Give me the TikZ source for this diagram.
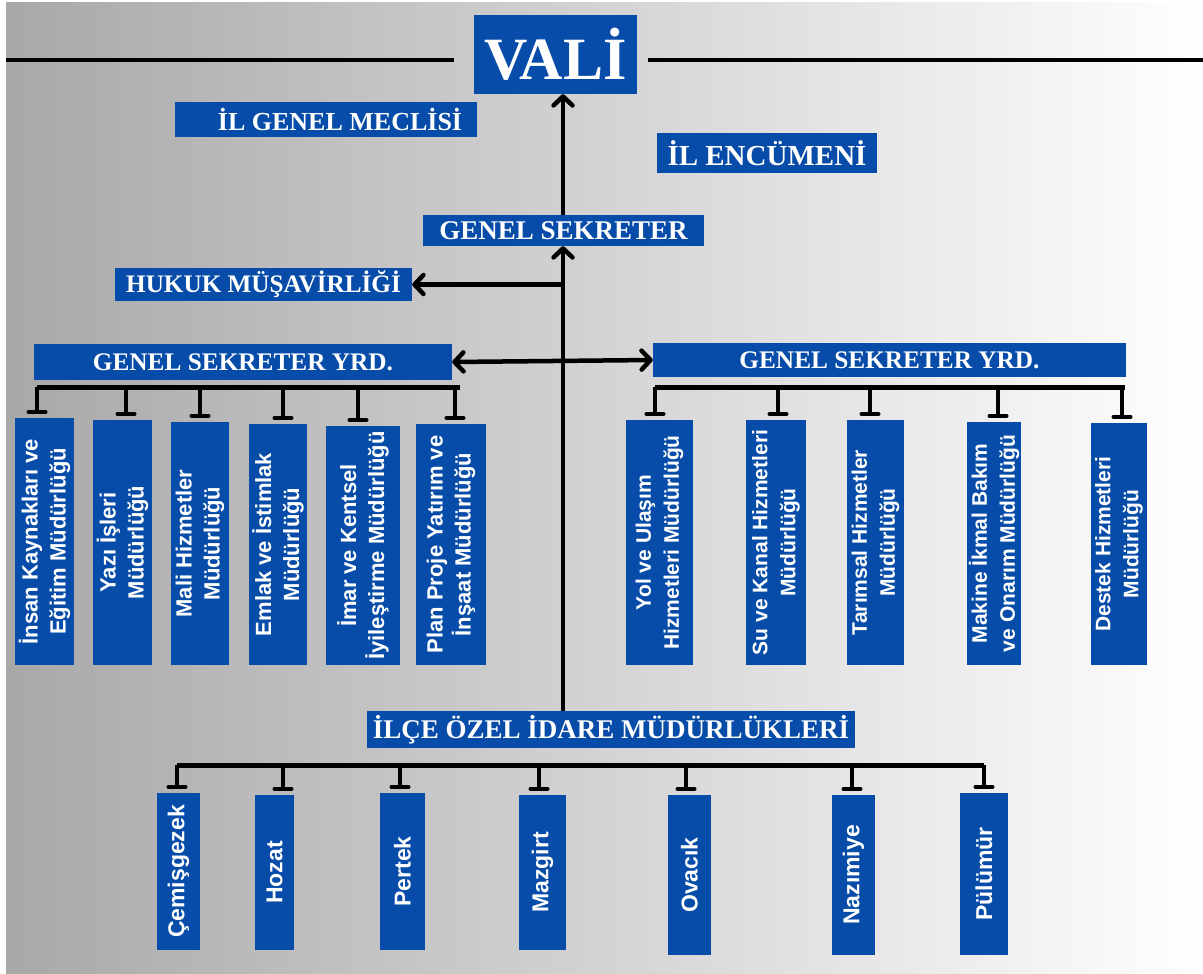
\documentclass[tikz,border=0pt]{standalone}
\usepackage{fontspec}
\setmainfont{Liberation Serif}
\newfontfamily\sansfam{Liberation Sans}
\usetikzlibrary{arrows.meta}
\definecolor{boxblue}{RGB}{6,76,168}
\definecolor{bgleft}{RGB}{168,168,168}
\newcommand\hdfont[1]{\bfseries\fontsize{#1}{#1}\selectfont}
\tikzset{
  myb/.tip={Straight Barb[length=9pt,width=19pt,line width=4.5pt,round]},
  mybar/.tip={Bar[width=17pt,round]},
}
\begin{document}
\begin{tikzpicture}[x=1pt,y=-1pt,
  box/.style={fill=boxblue, inner sep=0pt, text=white},
  vtxtL/.style={rotate=90, text=white, align=center, inner sep=0pt,
    font=\sansfam\bfseries\fontsize{22}{28}\selectfont},
  vtxtR/.style={rotate=90, text=white, align=center, inner sep=0pt,
    font=\sansfam\bfseries\fontsize{21}{28}\selectfont},
  vtxtB/.style={rotate=90, text=white, align=center, inner sep=0pt,
    font=\sansfam\bfseries\fontsize{23}{27}\selectfont},
  topline/.style={line width=3.5pt, black},
  arr/.style={line width=4.5pt, black, -myb},
  bus/.style={line width=5pt, black},
  stub/.style={line width=4pt, black, -mybar, shorten >=4pt},
]
\useasboundingbox (0,0) rectangle (1203,974);
\fill[white] (0,0) rectangle (1203,974);
\shade[left color=bgleft, right color=white] (6,3) rectangle (1203,974);

% top lines
\coordinate (tl1) at (6,60); \coordinate (tl2) at (454,60);
\coordinate (tr1) at (648,60); \coordinate (tr2) at (1203,60);
\draw[topline] (tl1) -- (tl2);
\draw[topline] (tr1) -- (tr2);

% header boxes
\node[box, minimum width=163pt, minimum height=79pt, font=\hdfont{60}] (vali) at (555.5,54.5) {VALİ};
\node[box, minimum width=302pt, minimum height=35pt, font=\hdfont{26}] (meclis) at (326,119.5) {\hspace*{28pt}İL GENEL MECLİSİ};
\node[box, minimum width=220pt, minimum height=40pt, font=\hdfont{29}] (encumen) at (767,153) {İL ENCÜMENİ};
\node[box, minimum width=281pt, minimum height=31pt, font=\hdfont{27}] (gs) at (563.5,230.5) {GENEL SEKRETER};
\node[box, minimum width=297pt, minimum height=33pt, font=\hdfont{25.2}] (hukuk) at (263.5,284.5) {HUKUK MÜŞAVİRLİĞİ};
\node[box, minimum width=418pt, minimum height=36pt, font=\hdfont{25.3}] (gsyL) at (243,362) {GENEL SEKRETER YRD.};
\node[box, minimum width=473pt, minimum height=34pt, font=\hdfont{25.3}] (gsyR) at (889.5,360) {GENEL SEKRETER YRD.};
\node[box, minimum width=488pt, minimum height=37pt, font=\hdfont{27}] (ilce) at (611,729.5) {İLÇE ÖZEL İDARE MÜDÜRLÜKLERİ};

% left units
\node[box, minimum width=59pt, minimum height=247pt] (L1) at (44.5,541.5) {};
\node[vtxtL] at (L1) {İnsan Kaynakları ve\\Eğitim Müdürlüğü};
\node[box, minimum width=59pt, minimum height=245pt] (L2) at (122.5,542.5) {};
\node[vtxtL] at (L2) {Yazı İşleri\\Müdürlüğü};
\node[box, minimum width=58pt, minimum height=243pt] (L3) at (200,543.5) {};
\node[vtxtL] at (L3) {Mali Hizmetler\\Müdürlüğü};
\node[box, minimum width=58pt, minimum height=241pt] (L4) at (278,544.5) {};
\node[vtxtL] at (L4) {Emlak ve İstimlak\\Müdürlüğü};
\node[box, minimum width=74pt, minimum height=239pt] (L5) at (363,545.5) {};
\node[vtxtL] at (L5) {İmar ve Kentsel\\İyileştirme Müdürlüğü};
\node[box, minimum width=70pt, minimum height=241pt] (L6) at (451,544.5) {};
\node[vtxtL] at (L6) {Plan Proje Yatırım ve\\İnşaat Müdürlüğü};

% right units
\node[box, minimum width=67pt, minimum height=245pt] (R1) at (659.5,542.5) {};
\node[vtxtR] at (R1) {Yol ve Ulaşım\\Hizmetleri Müdürlüğü};
\node[box, minimum width=60pt, minimum height=245pt] (R2) at (776,542.5) {};
\node[vtxtR] at (R2) {Su ve Kanal Hizmetleri\\Müdürlüğü};
\node[box, minimum width=57pt, minimum height=245pt] (R3) at (875.5,542.5) {};
\node[vtxtR] at (R3) {Tarımsal Hizmetler\\Müdürlüğü};
\node[box, minimum width=54pt, minimum height=243pt] (R4) at (994,543.5) {};
\node[vtxtR] at (R4) {Makine İkmal Bakım\\ve Onarım Müdürlüğü};
\node[box, minimum width=56pt, minimum height=242pt] (R5) at (1119,544) {};
\node[vtxtR] at (R5) {Destek Hizmetleri\\Müdürlüğü};

% district units
\node[box, minimum width=43pt, minimum height=157pt] (B1) at (178.5,871.5) {};
\node[vtxtB] at (B1) {Çemişgezek};
\node[box, minimum width=39pt, minimum height=155pt] (B2) at (274.5,872.5) {};
\node[vtxtB] at (B2) {Hozat};
\node[box, minimum width=45pt, minimum height=157pt] (B3) at (402.5,871.5) {};
\node[vtxtB] at (B3) {Pertek};
\node[box, minimum width=47pt, minimum height=155pt] (B4) at (542.5,872.5) {};
\node[vtxtB] at (B4) {Mazgirt};
\node[box, minimum width=43pt, minimum height=160pt] (B5) at (689.5,875) {};
\node[vtxtB] at (B5) {Ovacık};
\node[box, minimum width=43pt, minimum height=160pt] (B6) at (853.5,875) {};
\node[vtxtB] at (B6) {Nazımiye};
\node[box, minimum width=48pt, minimum height=162pt] (B7) at (984,874) {};
\node[vtxtB] at (B7) {Pülümür};

% main connectors
\coordinate (spine) at (563,0);
\draw[arr] (gs.north -| spine) -- (vali.south -| spine);
\draw[arr] (ilce.north -| spine) -- (gs.south -| spine);
\draw[arr] (spine |- hukuk.east) -- (hukuk.east);
\draw[line width=4.5pt, black, myb-myb] (gsyL.east) -- (gsyR.west);

% buses
\coordinate (lbusL) at (37,387); \coordinate (lbusR) at (460,387);
\draw[bus] (lbusL) -- (lbusR);
\foreach \x/\b in {37/L1,126/L2,200/L3,283/L4,358/L5,455/L6}
  \draw[stub] (\x,0 |- lbusL) -- (\x,0 |- \b.north);

\coordinate (rbusL) at (655,387); \coordinate (rbusR) at (1125,387);
\draw[bus] (rbusL) -- (rbusR);
\foreach \x/\b in {655/R1,778/R2,870/R3,998/R4,1122/R5}
  \draw[stub] (\x,0 |- rbusL) -- (\x,0 |- \b.north);

\coordinate (bbusL) at (177,765); \coordinate (bbusR) at (984,765);
\draw[bus] (bbusL) -- (bbusR);
\foreach \x/\b in {177/B1,283/B2,400/B3,539/B4,686/B5,852/B6,984/B7}
  \draw[stub] (\x,0 |- bbusL) -- (\x,0 |- \b.north);
\end{tikzpicture}
\end{document}
